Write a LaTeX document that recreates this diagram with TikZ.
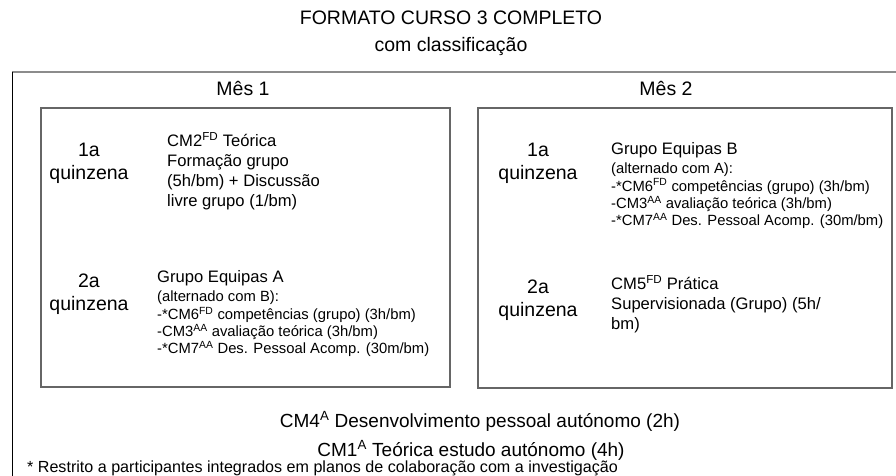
\documentclass[tikz,border=0pt]{standalone}
\usepackage{fontspec}
\setmainfont{Liberation Sans}

\begin{document}
\begin{tikzpicture}[x=1pt,y=-1pt]
				\tikzstyle{big}=[font=\fontsize{19.5}{23}\selectfont,inner sep=0pt]
				\tikzstyle{mid}=[font=\fontsize{16.6}{20}\selectfont,inner sep=0pt,align=left,anchor=north west]
				\tikzstyle{small}=[font=\fontsize{14.8}{17.3}\selectfont,inner sep=0pt,align=left,anchor=north west]
				\tikzstyle{quinz}=[big,align=center,anchor=north]
				\tikzstyle{frame}=[draw=black!60,line width=1.6pt]
				\useasboundingbox (0,0) rectangle (896,476);
				\draw[draw=black!45,line width=2pt] (12,72) -- (896,72);
				\draw[line width=1pt] (12,72) -- (12,476);
				\draw[frame] (41,108) rectangle (450,387);
				\draw[frame] (478,108) rectangle (892,388);
				\node[big,anchor=base] (title) at (451,25) {FORMATO CURSO 3 COMPLETO};
				\node[big,anchor=base] (subtitle) at (451,52) {com classificação};
				\node[big,anchor=base] (mes1) at (243,96) {Mês 1};
				\node[big,anchor=base] (mes2) at (666,96) {Mês 2};
				\node[quinz] (q1a) at (89,143) {1a\\quinzena};
				\node[mid] (cm2) at (167,132) {CM2\textsuperscript{FD} Teórica\\Formação grupo\\(5h/bm) + Discussão\\livre grupo (1/bm)};
				\node[quinz] (q1b) at (89,274) {2a\\quinzena};
				\node[mid] (grupoA) at (157,270) {Grupo Equipas A};
				\node[small] (listaA) at (157,291) {(alternado com B):\\-*CM6\textsuperscript{FD} competências (grupo) (3h/bm)\\-CM3\textsuperscript{AA} avaliação teórica (3h/bm)\\-*CM7\textsuperscript{AA} Des. Pessoal Acomp. (30m/bm)};
				\node[quinz] (q2a) at (538,143) {1a\\quinzena};
				\node[mid] (grupoB) at (611,142) {Grupo Equipas B};
				\node[small] (listaB) at (611,163) {(alternado com A):\\-*CM6\textsuperscript{FD} competências (grupo) (3h/bm)\\-CM3\textsuperscript{AA} avaliação teórica (3h/bm)\\-*CM7\textsuperscript{AA} Des. Pessoal Acomp. (30m/bm)};
				\node[quinz] (q2b) at (538,280) {2a\\quinzena};
				\node[mid] (cm5) at (611,275) {CM5\textsuperscript{FD} Prática\\Supervisionada (Grupo) (5h/\\bm)};
				\node[big,anchor=base,font=\fontsize{19}{23}\selectfont] (cm4) at (480,427) {CM4\textsuperscript{A} Desenvolvimento pessoal autónomo (2h)};
				\node[big,anchor=base,font=\fontsize{19}{23}\selectfont] (cm1) at (471,456) {CM1\textsuperscript{A} Teórica estudo autónomo (4h)};
				\node[small,anchor=base west,font=\fontsize{16.1}{19}\selectfont] (nota) at (27,472) {* Restrito a participantes integrados em planos de colaboração com a investigação};
\end{tikzpicture}
\end{document}
